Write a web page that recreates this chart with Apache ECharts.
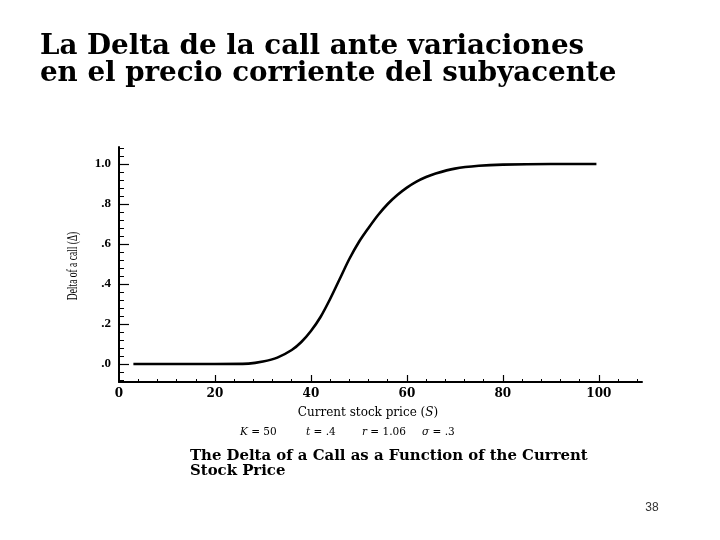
<!DOCTYPE html>
<html>
<head>
<meta charset="utf-8">
<script src="https://cdn.jsdelivr.net/npm/echarts@6/dist/echarts.min.js"></script>
<style>
html,body{margin:0;padding:0;background:#fff;}
#chart{width:720px;height:540px;}
</style>
</head>
<body>
<div id="chart"></div>
<script>
// ---- data ----
const stockPrice = [3, 10, 20, 27, 30, 33, 36, 38, 40, 42, 44, 46, 48, 50, 52, 54, 56, 58, 60, 62, 64, 66, 70, 75, 80, 90, 99.5];
const callDelta  = [0, 0, 0, 0.002, 0.012, 0.032, 0.07, 0.11, 0.165, 0.235, 0.325, 0.425, 0.525, 0.61, 0.68, 0.745, 0.80, 0.845, 0.882, 0.912, 0.935, 0.953, 0.977, 0.991, 0.997, 1.0, 1.0];
const xMajorTicks = [0, 20, 40, 60, 80, 100];
const yMajorTicks = [0, 0.2, 0.4, 0.6, 0.8, 1.0];
const titleLines = ['La Delta de la call ante variaciones', 'en el precio corriente del subyacente'];
const captionLines = ['The Delta of a Call as a Function of the Current', 'Stock Price'];
const xAxisTitle = 'Current stock price';
const yAxisTitle = 'Delta of a call (\u0394)';
const pageNumber = '38';

// minor tick positions (axis decoration)
const xMinor = [];
for (let v = 4; v <= 108; v += 4) { if (v % 20 !== 0) xMinor.push(v); }
const yMinor = [];
for (let i = -2; i <= 27; i++) { const v = Math.round(i * 4) / 100; if (Math.round(v * 100) % 20 !== 0) yMinor.push(v); }

const serif = '"Liberation Serif", "DejaVu Serif", serif';
const wide = '"DejaVu Serif", "Liberation Serif", serif';
const X_MIN = 0, X_MAX = 109, Y_MIN = -0.09, Y_MAX = 1.085;

const chart = echarts.init(document.getElementById('chart'), null, {renderer: 'canvas'});
const grid = {left: 119, right: 78, top: 147, bottom: 158, containLabel: false};
const italicRich = {i: {fontStyle: 'italic', fontFamily: wide, fontSize: 10.5, fill: '#000'}};

const option = {
  animation: false,
  backgroundColor: '#fff',
  grid: grid,
  xAxis: [
    {
      type: 'value', min: X_MIN, max: X_MAX, position: 'bottom',
      axisLine: {show: true, onZero: false, lineStyle: {color: '#000', width: 2}},
      axisTick: {show: true, inside: true, length: 3, customValues: xMinor, lineStyle: {color: '#000', width: 1}},
      axisLabel: {show: false},
      splitLine: {show: false}
    },
    {
      type: 'value', min: X_MIN, max: X_MAX, position: 'bottom',
      axisLine: {show: false, onZero: false},
      axisTick: {show: true, inside: true, length: 7, customValues: xMajorTicks.filter(v => v > 0), lineStyle: {color: '#000', width: 1.2}},
      axisLabel: {show: true, customValues: xMajorTicks, margin: 6, color: '#000', fontFamily: wide, fontWeight: 'bold', fontSize: 12},
      splitLine: {show: false}
    }
  ],
  yAxis: [
    {
      type: 'value', min: Y_MIN, max: Y_MAX, position: 'left',
      axisLine: {show: true, onZero: false, lineStyle: {color: '#000', width: 2}},
      axisTick: {show: true, inside: true, length: 5, customValues: yMinor, lineStyle: {color: '#000', width: 1}},
      axisLabel: {show: false},
      splitLine: {show: false}
    },
    {
      type: 'value', min: Y_MIN, max: Y_MAX, position: 'left',
      axisLine: {show: false, onZero: false},
      axisTick: {show: true, inside: true, length: 10, customValues: yMajorTicks, lineStyle: {color: '#000', width: 1.2}},
      axisLabel: {
        show: true, customValues: yMajorTicks, margin: 8, color: '#000', fontFamily: serif, fontWeight: 'bold', fontSize: 13,
        formatter: v => (Math.abs(v - 1) < 1e-9 ? '1.0' : '.' + Math.round(v * 10))
      },
      splitLine: {show: false}
    }
  ],
  series: [{
    type: 'line',
    xAxisIndex: 0, yAxisIndex: 0,
    data: stockPrice.map((s, i) => [s, callDelta[i]]),
    smooth: 0.3,
    symbol: 'none',
    lineStyle: {color: '#000', width: 2.6}
  }],
  graphic: [
    {type: 'text', left: 40, top: 33, style: {text: titleLines[0], font: 'bold 27.7px ' + wide, fill: '#000'}},
    {type: 'text', left: 40, top: 60, style: {text: titleLines[1], font: 'bold 27.7px ' + wide, fill: '#000'}},
    {type: 'text', x: 73, y: 266, rotation: Math.PI / 2, scaleX: 0.68, style: {
      text: yAxisTitle, textAlign: 'center', textVerticalAlign: 'middle', font: '14px ' + serif, fill: '#000'
    }},
    {type: 'text', x: 368, y: 413, style: {
      text: xAxisTitle + ' ({i|S})', textAlign: 'center', textVerticalAlign: 'middle',
      font: '12px ' + wide, fill: '#000',
      rich: {i: {fontStyle: 'italic', fontFamily: wide, fontSize: 12, fill: '#000'}}
    }},
    {type: 'text', x: 240, y: 432, style: {text: '{i|K} = 50', textVerticalAlign: 'middle', font: '10.5px ' + wide, fill: '#000', rich: italicRich}},
    {type: 'text', x: 306, y: 432, style: {text: '{i|t} = .4', textVerticalAlign: 'middle', font: '10.5px ' + wide, fill: '#000', rich: italicRich}},
    {type: 'text', x: 362, y: 432, style: {text: '{i|r} = 1.06', textVerticalAlign: 'middle', font: '10.5px ' + wide, fill: '#000', rich: italicRich}},
    {type: 'text', x: 422, y: 432, style: {text: '{i|\u03c3} = .3', textVerticalAlign: 'middle', font: '10.5px ' + wide, fill: '#000', rich: italicRich}},
    {type: 'text', left: 190, top: 449, style: {text: captionLines[0], font: 'bold 14.9px ' + wide, fill: '#000'}},
    {type: 'text', left: 190, top: 464, style: {text: captionLines[1], font: 'bold 14.9px ' + wide, fill: '#000'}},
    {type: 'text', x: 652, y: 508, style: {text: pageNumber, textAlign: 'center', textVerticalAlign: 'middle', font: '12px "Liberation Sans", sans-serif', fill: '#333'}}
  ]
};
chart.setOption(option);
</script>
</body>
</html>
